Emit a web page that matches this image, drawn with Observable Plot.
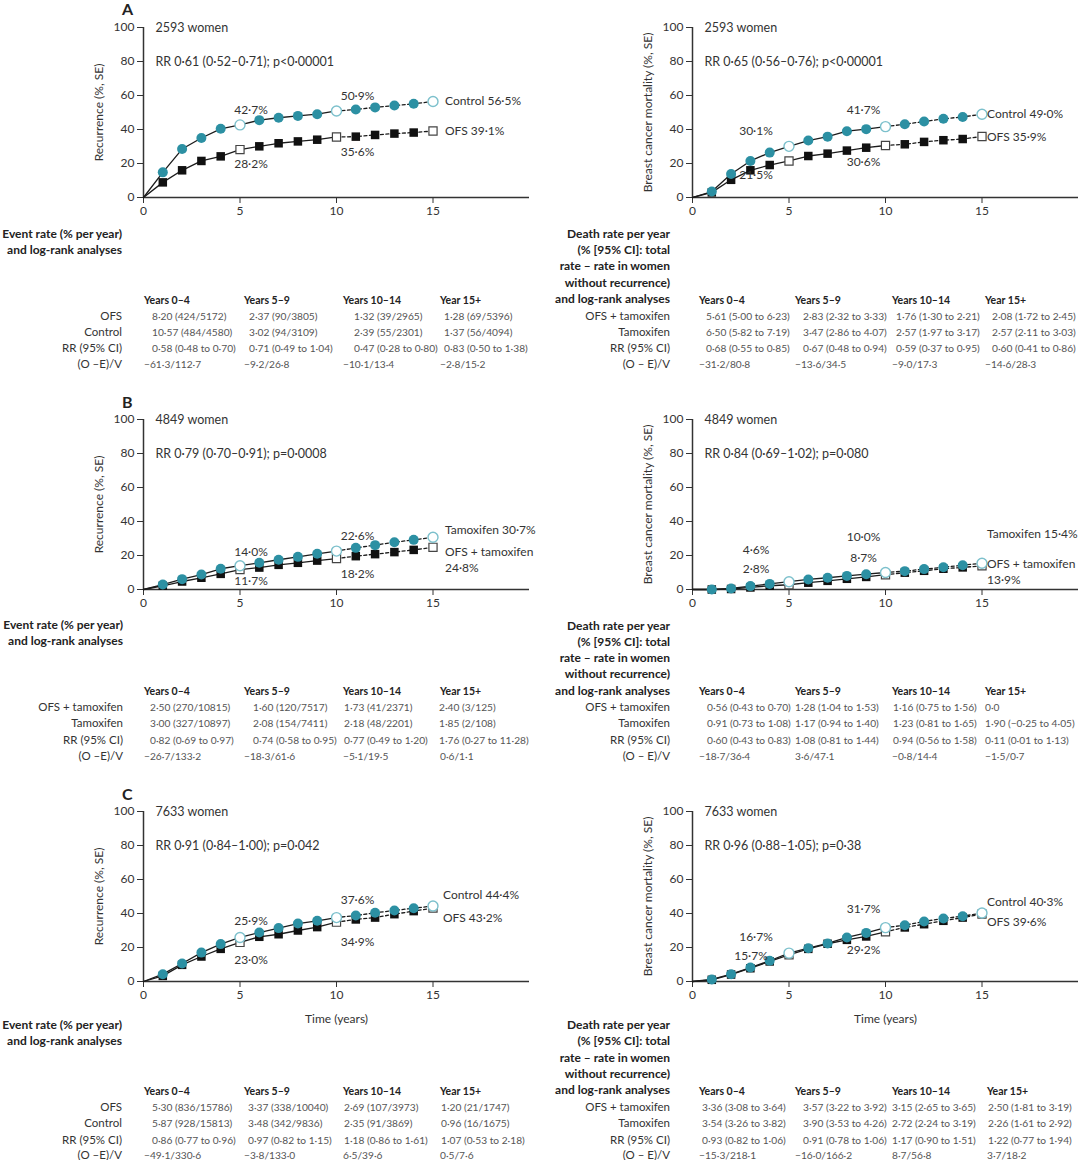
<!DOCTYPE html>
<html><head><meta charset="utf-8">
<script src="https://cdn.jsdelivr.net/npm/d3@7"></script>
<script src="https://cdn.jsdelivr.net/npm/@observablehq/plot@0.6"></script>
<style>
body{margin:0;background:#fff;font-family:Lato,"Open Sans",sans-serif;}
#root{position:relative;width:1080px;height:1160px;overflow:hidden;background:#fff;}
.abs{position:absolute;white-space:nowrap;line-height:16px;}
</style></head><body><div id="root"></div>
<script>
// ---------- DATA ----------
const years = [0,1,2,3,4,5,6,7,8,9,10,11,12,13,14,15];
const periods = ["Years 0–4","Years 5–9","Years 10–14","Year 15+"];

// Panel A
const aRecControl = [0,14.8,28.5,35.0,40.4,42.7,45.5,46.9,48.0,49.0,50.9,51.8,53.0,54.1,55.1,56.5];
const aRecOFS     = [0,8.9,16.0,21.5,24.2,28.2,30.1,31.9,33.0,34.0,35.6,35.8,36.8,37.6,38.2,39.1];
const aMortControl= [0,3.5,13.8,21.5,26.4,30.1,33.5,35.8,39.0,40.2,41.7,43.1,44.7,46.3,47.4,49.0];
const aMortOFS    = [0,3.0,10.4,16.0,19.1,21.5,24.4,25.8,27.6,29.3,30.6,31.3,32.7,33.7,34.4,35.9];
// Panel B
const bRecTam     = [0,2.9,6.1,8.8,12.2,14.0,15.7,17.5,19.2,21.0,22.6,24.5,26.1,27.8,29.2,30.7];
const bRecOFSTam  = [0,2.2,4.7,6.9,9.2,11.7,12.9,14.5,15.7,17.0,18.2,19.6,20.8,22.0,23.3,24.8];
const bMortTam    = [0,0,0.6,2.0,3.3,4.6,5.9,6.9,8.0,9.0,10.0,10.8,12.0,13.1,14.3,15.4];
const bMortOFSTam = [0,0,0.3,1.2,2.2,2.8,4.0,5.1,6.3,7.4,8.7,9.9,11.0,12.2,13.0,13.9];
// Panel C
const cRecControl = [0,4.3,10.6,17.0,22.0,25.9,28.8,31.4,34.1,35.7,37.6,38.8,40.4,41.8,43.1,44.4];
const cRecOFS     = [0,3.3,9.8,14.7,19.2,23.0,26.3,27.8,30.0,32.0,34.9,36.5,37.6,39.6,41.4,43.2];
const cMortControl= [0,1.2,4.3,8.2,12.2,16.7,19.6,22.4,25.9,28.6,31.7,33.1,35.3,37.1,38.4,40.3];
const cMortOFS    = [0,1.0,4.1,7.8,11.8,15.7,19.2,22.2,24.5,26.5,29.2,31.8,33.7,35.7,37.6,39.6];

// Table texts
const leftTitle  = ["Event rate (% per year)","and log-rank analyses"];
const rightTitle = ["Death rate per year","(% [95% CI]: total","rate – rate in women","without recurrence)","and log-rank analyses"];
const rightRows  = ["OFS + tamoxifen","Tamoxifen","RR (95% CI)","(O – E)/V"];
const aLeftRows  = ["OFS","Control","RR (95% CI)","(O –E)/V"];
const aLeftVals = [
 ["8·20 (424/5172)","2·37 (90/3805)","1·32 (39/2965)","1·28 (69/5396)"],
 ["10·57 (484/4580)","3·02 (94/3109)","2·39 (55/2301)","1·37 (56/4094)"],
 ["0·58 (0·48 to 0·70)","0·71 (0·49 to 1·04)","0·47 (0·28 to 0·80)","0·83 (0·50 to 1·38)"],
 ["−61·3/112·7","−9·2/26·8","−10·1/13·4","−2·8/15·2"]];
const aRightVals = [
 ["5·61 (5·00 to 6·23)","2·83 (2·32 to 3·33)","1·76 (1·30 to 2·21)","2·08 (1·72 to 2·45)"],
 ["6·50 (5·82 to 7·19)","3·47 (2·86 to 4·07)","2·57 (1·97 to 3·17)","2·57 (2·11 to 3·03)"],
 ["0·68 (0·55 to 0·85)","0·67 (0·48 to 0·94)","0·59 (0·37 to 0·95)","0·60 (0·41 to 0·86)"],
 ["−31·2/80·8","−13·6/34·5","−9·0/17·3","−14·6/28·3"]];
const bLeftRows = ["OFS + tamoxifen","Tamoxifen","RR (95% CI)","(O –E)/V"];
const bLeftVals = [
 ["2·50 (270/10815)","1·60 (120/7517)","1·73 (41/2371)","2·40 (3/125)"],
 ["3·00 (327/10897)","2·08 (154/7411)","2·18 (48/2201)","1·85 (2/108)"],
 ["0·82 (0·69 to 0·97)","0·74 (0·58 to 0·95)","0·77 (0·49 to 1·20)","1·76 (0·27 to 11·28)"],
 ["−26·7/133·2","−18·3/61·6","−5·1/19·5","0·6/1·1"]];
const bRightVals = [
 ["0·56 (0·43 to 0·70)","1·28 (1·04 to 1·53)","1·16 (0·75 to 1·56)","0·0"],
 ["0·91 (0·73 to 1·08)","1·17 (0·94 to 1·40)","1·23 (0·81 to 1·65)","1·90 (−0·25 to 4·05)"],
 ["0·60 (0·43 to 0·83)","1·08 (0·81 to 1·44)","0·94 (0·56 to 1·58)","0·11 (0·01 to 1·13)"],
 ["−18·7/36·4","3·6/47·1","−0·8/14·4","−1·5/0·7"]];
const cLeftRows = ["OFS","Control","RR (95% CI)","(O –E)/V"];
const cLeftVals = [
 ["5·30 (836/15786)","3·37 (338/10040)","2·69 (107/3973)","1·20 (21/1747)"],
 ["5·87 (928/15813)","3·48 (342/9836)","2·35 (91/3869)","0·96 (16/1675)"],
 ["0·86 (0·77 to 0·96)","0·97 (0·82 to 1·15)","1·18 (0·86 to 1·61)","1·07 (0·53 to 2·18)"],
 ["−49·1/330·6","−3·8/133·0","6·5/39·6","0·5/7·6"]];
const cRightVals = [
 ["3·36 (3·08 to 3·64)","3·57 (3·22 to 3·92)","3·15 (2·65 to 3·65)","2·50 (1·81 to 3·19)"],
 ["3·54 (3·26 to 3·82)","3·90 (3·53 to 4·26)","2·72 (2·24 to 3·19)","2·26 (1·61 to 2·92)"],
 ["0·93 (0·82 to 1·06)","0·91 (0·78 to 1·06)","1·17 (0·90 to 1·51)","1·22 (0·77 to 1·94)"],
 ["−15·3/218·1","−16·0/166·2","8·7/56·8","3·7/18·2"]];

// ---------- RENDER ----------
const root = document.getElementById("root");
const TEAL = "#2c90a3";
const fmt = v => v.toFixed(1).replace(".", "·") + "%";

function place(el, left, top) {
  const d = document.createElement("div");
  d.className = "abs"; d.style.left = left + "px"; d.style.top = top + "px";
  d.appendChild(el); root.appendChild(d); return d;
}
function txt(s, x, y, o = {}) {
  const d = document.createElement("div");
  d.className = "abs"; d.textContent = s;
  const lh = o.lh || 16;
  d.style.lineHeight = lh + "px";
  d.style.top = (y - lh / 2) + "px";
  if (o.right) d.style.right = (1080 - x) + "px"; else d.style.left = x + "px";
  d.style.fontSize = (o.size || 11) + "px";
  d.style.fontWeight = o.bold ? "700" : "400";
  d.style.color = o.color || "#333";
  root.appendChild(d);
}

function chart(c) {
  const A = years.map((x, i) => ({x, v: c.a[i]}));
  const B = years.map((x, i) => ({x, v: c.b[i]}));
  const isH = d => d.x === 5 || d.x === 10 || d.x === 15;
  const lines = S => [
    Plot.line(S.filter(d => d.x <= 10), {x: "x", y: "v", stroke: "#1b1b1b", strokeWidth: 1.3}),
    Plot.line(S.filter(d => d.x >= 10), {x: "x", y: "v", stroke: "#1b1b1b", strokeWidth: 1.3, strokeDasharray: "3,2.5"})
  ];
  const S = {a: A, b: B};
  const notes = c.notes.map(([s, yr, dx, dy, anchor]) => {
    const p = S[s].find(d => d.x === yr);
    return Plot.text([p], {x: "x", y: "v", text: d => fmt(d.v), dx, dy, textAnchor: anchor || "middle", fontSize: 12, fill: "#333"});
  });
  const ends = c.ends.map(([s, name, dx, dy, dy2]) => {
    const p = S[s].find(d => d.x === 15);
    if (dy2 === undefined)
      return [Plot.text([p], {x: "x", y: "v", text: d => name + " " + fmt(d.v), dx, dy, textAnchor: "start", fontSize: 12, fill: "#333"})];
    return [Plot.text([p], {x: "x", y: "v", text: () => name, dx, dy, textAnchor: "start", fontSize: 12, fill: "#333"}),
            Plot.text([p], {x: "x", y: "v", text: d => fmt(d.v), dx, dy: dy2, textAnchor: "start", fontSize: 12, fill: "#333"})];
  }).flat();
  const svg = Plot.plot({
    width: 540, height: c.height, marginTop: 20, marginBottom: c.height - 190,
    marginLeft: c.ml, marginRight: 540 - c.ml - 386,
    x: {domain: [0, 20]}, y: {domain: [0, 100]},
    style: {background: "transparent", overflow: "visible", color: "#333", fontSize: "12px", fontFamily: "Lato, 'Open Sans', sans-serif", maxWidth: "none"},
    marks: [
      Plot.axisY({ticks: [0, 20, 40, 60, 80, 100], tickSize: 6, tickPadding: 3, label: c.yLabel, labelAnchor: "center", labelArrow: "none", labelOffset: 49, fontSize: 12}),
      Plot.axisX({ticks: [0, 5, 10, 15], tickSize: 6, tickPadding: 3, label: c.xLabel || null, labelAnchor: "center", labelArrow: "none", labelOffset: 41, fontSize: 12}),
      Plot.ruleY([0], {stroke: "#333", strokeWidth: 1.5}),
      Plot.ruleX([0], {stroke: "#333", strokeWidth: 1.5}),
      ...lines(B), ...lines(A),
      Plot.dot(B.filter(d => d.x > 0 && !isH(d)), {x: "x", y: "v", symbol: "square", r: 4.8, fill: "#111"}),
      Plot.dot(B.filter(isH), {x: "x", y: "v", symbol: "square", r: 4.6, fill: "#fff", stroke: "#444", strokeWidth: 1.2}),
      Plot.dot(A.filter(d => d.x > 0 && !isH(d)), {x: "x", y: "v", r: 5, fill: TEAL}),
      Plot.dot(A.filter(isH), {x: "x", y: "v", r: 5, fill: "#fff", stroke: "#7cc0cc", strokeWidth: 1.4}),
      Plot.text([c.women], {text: d => d, frameAnchor: "top-left", dx: 12, dy: 0, lineAnchor: "middle", textAnchor: "start", fontSize: 12.5, fill: "#333"}),
      Plot.text([c.rr], {text: d => d, frameAnchor: "top-left", dx: 12, dy: 34, lineAnchor: "middle", textAnchor: "start", fontSize: 12.5, fill: "#333"}),
      ...notes, ...ends
    ]
  });
  place(svg, c.left, c.top - 20);
}

function table(t) {
  const lab = t.labelX;
  t.title.forEach((s, i) => txt(s, lab, t.titleY[i], {right: true, bold: true, size: 12, color: "#222"}));
  periods.forEach((p, j) => txt(p, t.colX[j], t.headY, {bold: true, size: 10.5, color: "#222"}));
  t.rows.forEach((r, i) => {
    txt(r, lab, t.rowY[i], {right: true, size: 11.5, color: "#333"});
    t.vals[i].forEach((v, j) => txt(v, i === 3 ? t.colX[j] : t.valX[j], t.rowY[i], {size: 10.2, color: "#555"}));
  });
}

// Panel letters
txt("A", 122, 9, {bold: true, size: 16, color: "#222", lh: 18});
txt("B", 122, 402, {bold: true, size: 16, color: "#222", lh: 18});
txt("C", 122, 794, {bold: true, size: 16, color: "#222", lh: 18});

const recLab = "Recurrence (%, SE)", mortLab = "Breast cancer mortality (%, SE)";
chart({left: 0, top: 27, ml: 143, height: 220, a: aRecControl, b: aRecOFS, yLabel: recLab,
  women: "2593 women", rr: "RR 0·61 (0·52–0·71); p<0·00001",
  notes: [["a",5,11,-15],["b",5,11,15],["a",10,21,-15],["b",10,21,15]],
  ends: [["a","Control",12,0],["b","OFS",12,0]]});
chart({left: 540, top: 27, ml: 152, height: 220, a: aMortControl, b: aMortOFS, yLabel: mortLab,
  women: "2593 women", rr: "RR 0·65 (0·56–0·76); p<0·00001",
  notes: [["a",5,-33,-15],["b",5,-33,14],["a",10,-22,-16],["b",10,-22,17]],
  ends: [["a","Control",5,0],["b","OFS",5,1]]});
chart({left: 0, top: 419, ml: 143, height: 220, a: bRecTam, b: bRecOFSTam, yLabel: recLab,
  women: "4849 women", rr: "RR 0·79 (0·70–0·91); p=0·0008",
  notes: [["a",5,11,-14],["b",5,11,12],["a",10,21,-15],["b",10,21,16]],
  ends: [["a","Tamoxifen",12,-7],["b","OFS + tamoxifen",12,5,21]]});
chart({left: 540, top: 419, ml: 152, height: 220, a: bMortTam, b: bMortOFSTam, yLabel: mortLab,
  women: "4849 women", rr: "RR 0·84 (0·69–1·02); p=0·080",
  notes: [["a",5,-33,-32],["b",5,-33,-16],["a",10,-22,-35],["b",10,-22,-17]],
  ends: [["a","Tamoxifen",5,-29],["b","OFS + tamoxifen",5,-2,14]]});
chart({left: 0, top: 811, ml: 143, height: 240, a: cRecControl, b: cRecOFS, yLabel: recLab, xLabel: "Time (years)",
  women: "7633 women", rr: "RR 0·91 (0·84–1·00); p=0·042",
  notes: [["a",5,11,-16],["b",5,11,18],["a",10,21,-17],["b",10,21,20]],
  ends: [["a","Control",10,-11],["b","OFS",10,10]]});
chart({left: 540, top: 811, ml: 152, height: 240, a: cMortControl, b: cMortOFS, yLabel: mortLab, xLabel: "Time (years)",
  women: "7633 women", rr: "RR 0·96 (0·88–1·05); p=0·38",
  notes: [["a",5,-33,-16],["b",5,-38,1],["a",10,-22,-18],["b",10,-22,18]],
  ends: [["a","Control",5,-11],["b","OFS",5,8]]});

// Tables
table({labelX: 122, title: leftTitle, titleY: [234, 250], headY: 300, rowY: [316, 332, 348, 364],
  colX: [144, 244, 343, 440], valX: [152, 249, 354, 444], rows: aLeftRows, vals: aLeftVals});
table({labelX: 670, title: rightTitle, titleY: [234, 250, 266, 283, 299], headY: 300, rowY: [316, 332, 348, 364],
  colX: [699, 795, 892, 985], valX: [706, 803, 896, 992], rows: rightRows, vals: aRightVals});
table({labelX: 123, title: leftTitle, titleY: [625, 641], headY: 691, rowY: [707, 723, 740, 756],
  colX: [144, 244, 343, 440], valX: [150, 253, 344, 439], rows: bLeftRows, vals: bLeftVals});
table({labelX: 670, title: rightTitle, titleY: [626, 642, 658, 674, 691], headY: 691, rowY: [707, 723, 740, 756],
  colX: [699, 795, 892, 985], valX: [707, 795, 893, 985], rows: rightRows, vals: bRightVals});
table({labelX: 122, title: leftTitle, titleY: [1025, 1041], headY: 1091, rowY: [1107, 1123, 1140, 1155],
  colX: [144, 244, 343, 440], valX: [152, 248, 344, 441], rows: cLeftRows, vals: cLeftVals});
table({labelX: 670, title: rightTitle, titleY: [1025, 1041, 1058, 1074, 1090], headY: 1091, rowY: [1107, 1123, 1140, 1155],
  colX: [699, 795, 892, 987], valX: [702, 803, 892, 988], rows: rightRows, vals: cRightVals});
</script></body></html>
